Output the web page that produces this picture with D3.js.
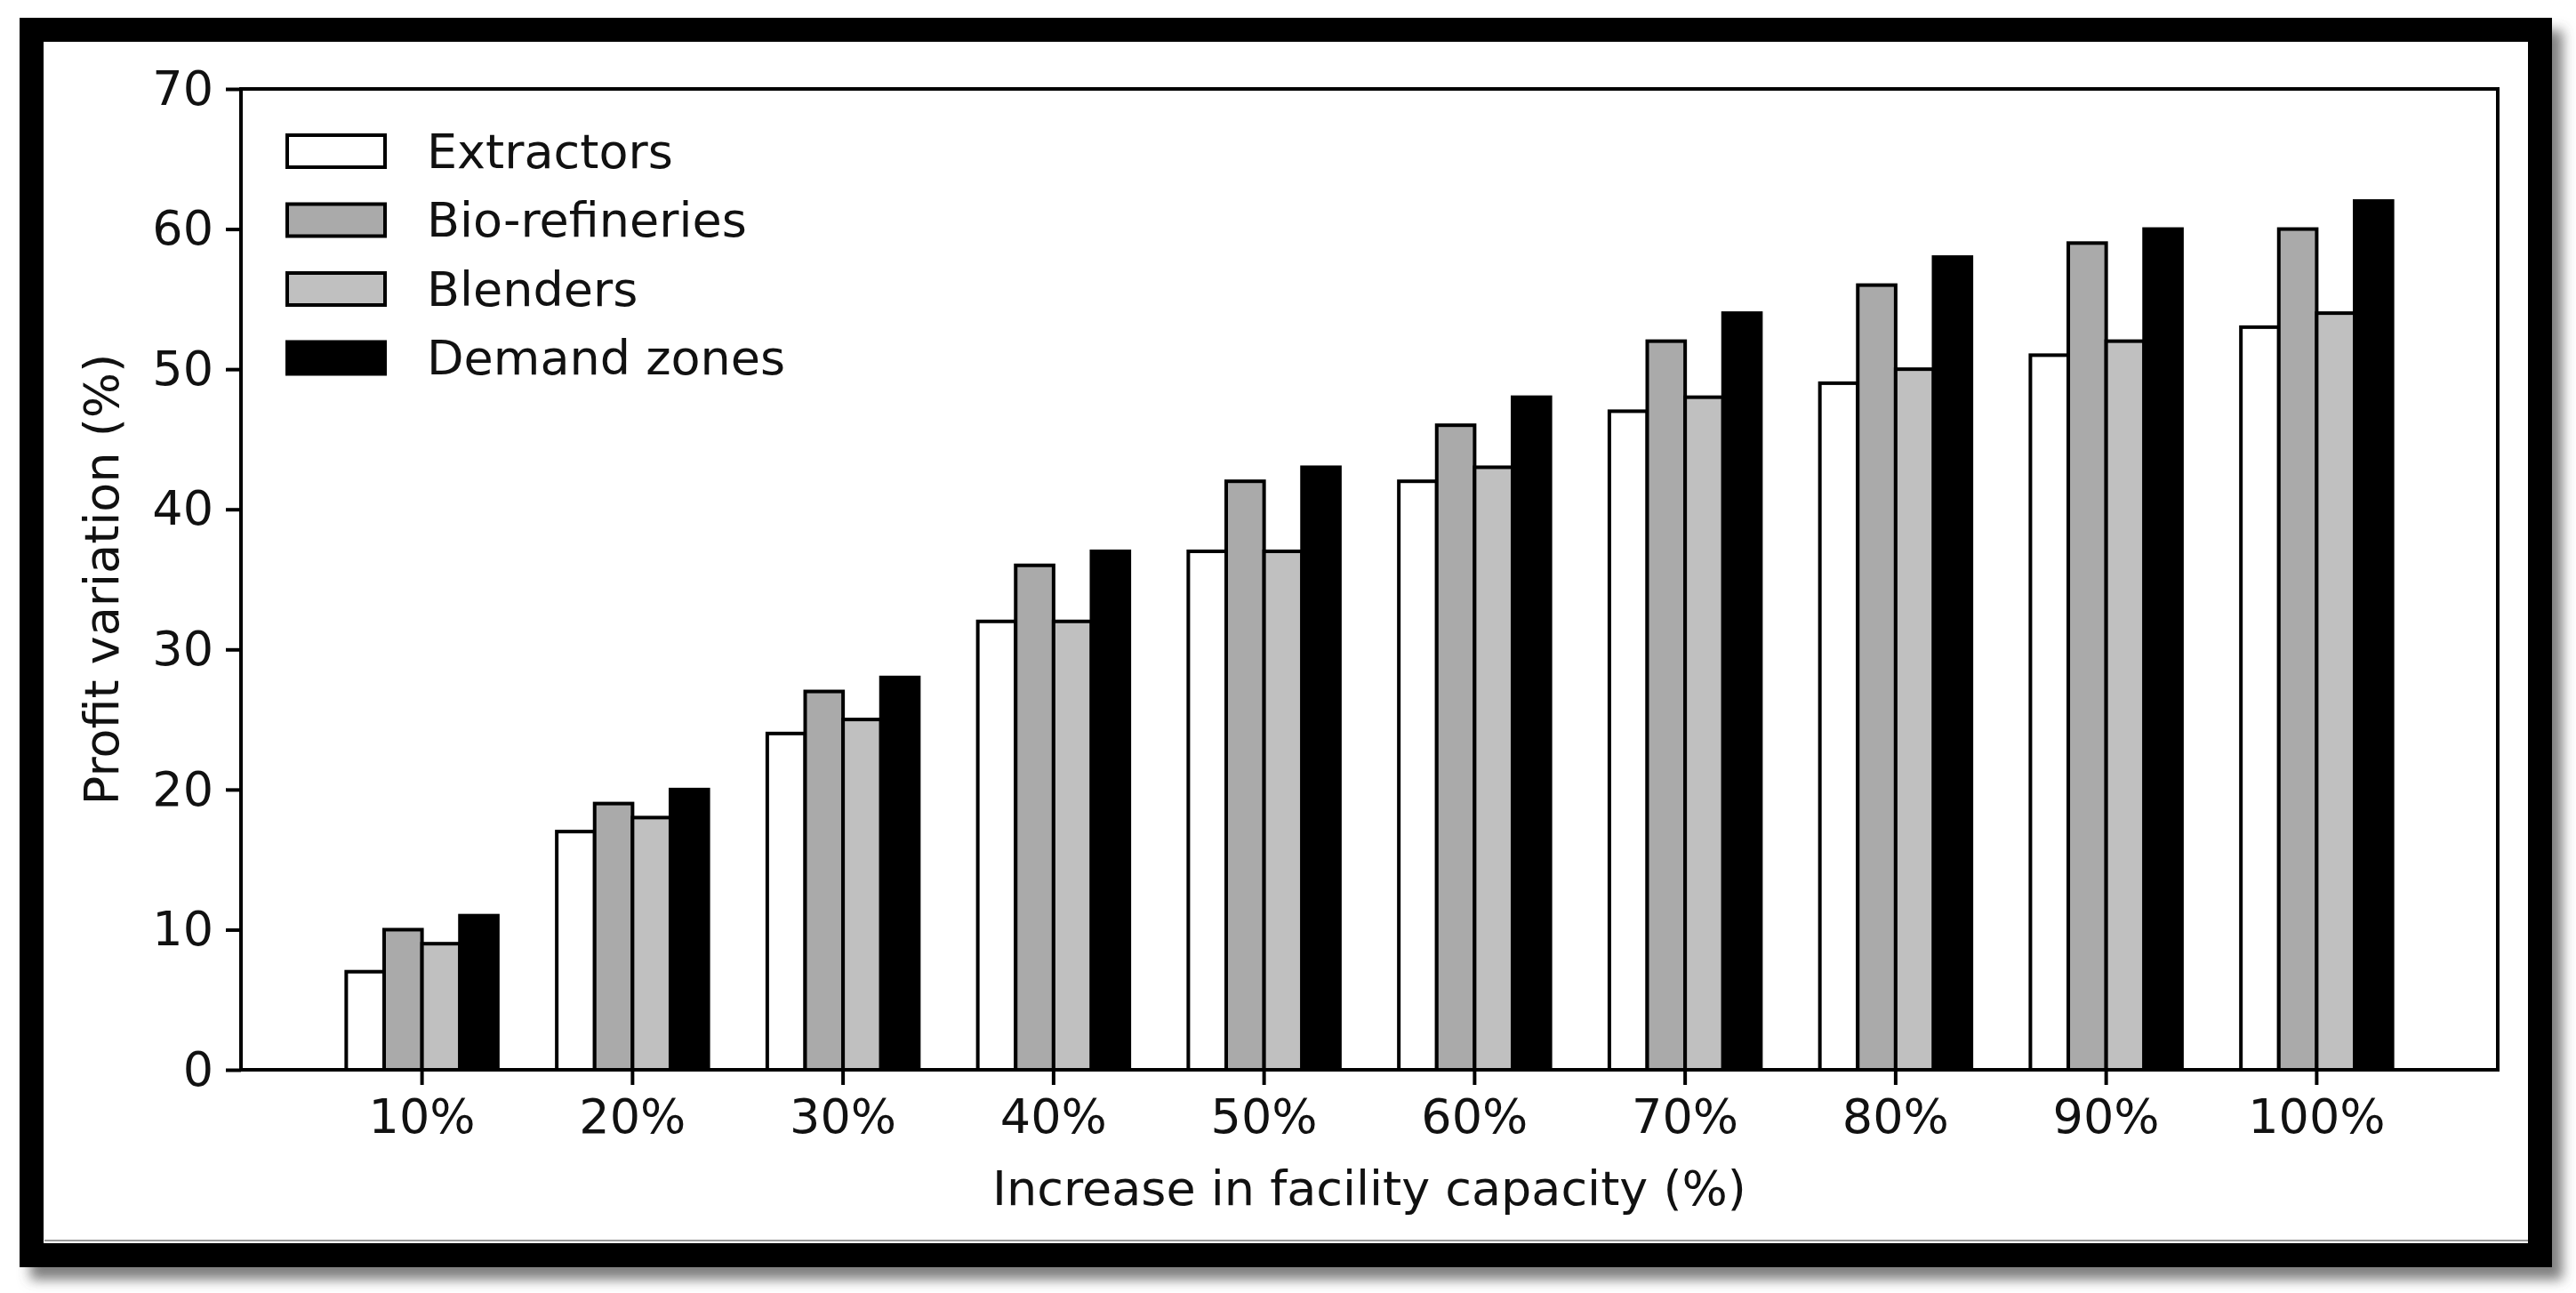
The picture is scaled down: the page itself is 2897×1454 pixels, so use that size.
<!DOCTYPE html>
<html>
<head>
<meta charset="utf-8">
<script src="https://cdn.jsdelivr.net/npm/d3@7"></script>
<style>
  body { margin: 0; background: #fff; }
  svg { display: block; }
  text { font-family: "DejaVu Sans", sans-serif; }
</style>
</head>
<body>
<svg id="chart"></svg>
<script>
// data
const categories = ["10%", "20%", "30%", "40%", "50%", "60%", "70%", "80%", "90%", "100%"];
const seriesNames = ["Extractors", "Bio-refineries", "Blenders", "Demand zones"];
const extractors = [7, 17, 24, 32, 37, 42, 47, 49, 51, 53];
const bioRefineries = [10, 19, 27, 36, 42, 46, 52, 56, 59, 60];
const blenders = [9, 18, 25, 32, 37, 43, 48, 50, 52, 54];
const demandZones = [11, 20, 28, 37, 43, 48, 54, 58, 60, 62];
const yTicks = [0, 10, 20, 30, 40, 50, 60, 70];
const xTitle = "Increase in facility capacity (%)";
const yTitle = "Profit variation (%)";

const seriesValues = [extractors, bioRefineries, blenders, demandZones];
const fills = ["#ffffff", "#aaaaaa", "#c0c0c0", "#000000"];

const width = 2897, height = 1454;
const plot = {left: 271, right: 2809, top: 100, bottom: 1203};
const fontSize = 54;

const svg = d3.select("#chart").attr("width", width).attr("height", height);

// drop shadow for the thick outer frame
const defs = svg.append("defs");
const f = defs.append("filter").attr("id", "shadow")
  .attr("x", "-5%").attr("y", "-5%").attr("width", "110%").attr("height", "115%");
f.append("feDropShadow").attr("dx", 12).attr("dy", 14).attr("stdDeviation", 7)
  .attr("flood-color", "#555").attr("flood-opacity", 0.75);

svg.append("rect")
  .attr("x", 35.5).attr("y", 33.5).attr("width", 2821).attr("height", 1378)
  .attr("fill", "#fff").attr("stroke", "#000").attr("stroke-width", 27)
  .attr("filter", "url(#shadow)");
svg.append("line")
  .attr("x1", 50).attr("x2", 2843).attr("y1", 1395).attr("y2", 1395)
  .attr("stroke", "#999").attr("stroke-width", 2);

const x0 = d3.scaleBand()
  .domain(categories)
  .range([plot.left, plot.right])
  .paddingInner(0.28)
  .paddingOuter(0.5);
const x1 = d3.scaleBand()
  .domain(seriesNames)
  .range([0, x0.bandwidth()]);
const y = d3.scaleLinear().domain([0, 70]).range([plot.bottom, plot.top]);

// bars
const groups = svg.append("g").selectAll("g")
  .data(categories)
  .join("g")
  .attr("transform", d => `translate(${x0(d)},0)`);

groups.selectAll("rect")
  .data((c, i) => seriesNames.map((s, k) => ({s: s, k: k, v: seriesValues[k][i]})))
  .join("rect")
  .attr("x", d => x1(d.s))
  .attr("y", d => y(d.v))
  .attr("width", x1.bandwidth())
  .attr("height", d => y(0) - y(d.v))
  .attr("fill", d => fills[d.k])
  .attr("stroke", "#000")
  .attr("stroke-width", 4);

// axes
const yAxis = svg.append("g")
  .attr("transform", `translate(${plot.left},0)`)
  .call(d3.axisLeft(y).tickValues(yTicks).tickSize(17).tickPadding(14));
const xAxis = svg.append("g")
  .attr("transform", `translate(0,${plot.bottom})`)
  .call(d3.axisBottom(x0).tickSize(17).tickPadding(16));

[xAxis, yAxis].forEach(a => {
  a.select(".domain").remove();
  a.selectAll(".tick line").attr("stroke", "#000").attr("stroke-width", 4);
  a.selectAll(".tick text").attr("font-size", fontSize).attr("fill", "#111")
    .attr("font-family", "DejaVu Sans");
});

// spines
svg.append("rect")
  .attr("x", plot.left).attr("y", plot.top)
  .attr("width", plot.right - plot.left).attr("height", plot.bottom - plot.top)
  .attr("fill", "none").attr("stroke", "#000").attr("stroke-width", 4);

// axis titles
svg.append("text")
  .attr("x", (plot.left + plot.right) / 2).attr("y", 1355)
  .attr("text-anchor", "middle").attr("font-size", fontSize).attr("fill", "#111")
  .text(xTitle);
svg.append("text")
  .attr("transform", `translate(133,${(plot.top + plot.bottom) / 2}) rotate(-90)`)
  .attr("text-anchor", "middle").attr("font-size", fontSize).attr("fill", "#111")
  .text(yTitle);

// legend (no frame)
const legend = svg.append("g").attr("transform", "translate(323,170)");
const rows = legend.selectAll("g")
  .data(seriesNames)
  .join("g")
  .attr("transform", (d, i) => `translate(0,${i * 77.5})`);
rows.append("rect")
  .attr("x", 0).attr("y", -18).attr("width", 110).attr("height", 36)
  .attr("fill", (d, i) => fills[i]).attr("stroke", "#000").attr("stroke-width", 4);
rows.append("text")
  .attr("x", 157).attr("y", 0).attr("dy", "0.35em")
  .attr("font-size", fontSize).attr("fill", "#111")
  .text(d => d);
</script>
</body>
</html>
